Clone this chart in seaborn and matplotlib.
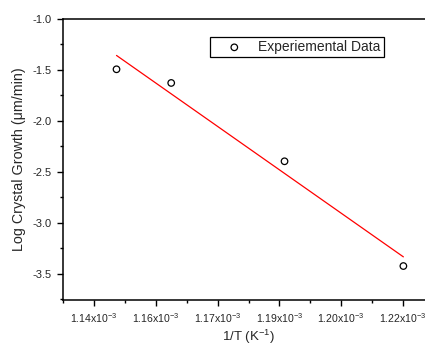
import numpy as np
import pandas as pd
import seaborn as sns
import matplotlib.pyplot as plt
from matplotlib.ticker import FixedLocator, FuncFormatter, MultipleLocator

# values (1/T in K^-1, log growth in um/min)
inv_temp = [1.14548e-3, 1.15875e-3, 1.18624e-3, 1.21507e-3]
log_growth = [-1.493, -1.627, -2.395, -3.422]
x_ticks = [1.140e-3, 1.155e-3, 1.170e-3, 1.185e-3, 1.200e-3, 1.215e-3]
x_tick_labels = ['1.14', '1.16', '1.17', '1.19', '1.20', '1.22']

df = pd.DataFrame({'inv_temp': inv_temp, 'log_growth': log_growth})

sns.set_style('ticks')
plt.rcParams['font.family'] = ['Liberation Sans', 'DejaVu Sans']
plt.rcParams['mathtext.fontset'] = 'custom'
plt.rcParams['mathtext.rm'] = 'Liberation Sans'
plt.rcParams['mathtext.it'] = 'Liberation Sans'
plt.rcParams['mathtext.default'] = 'regular'

fig = plt.figure(figsize=(4.25, 3.44), dpi=100)
ax = fig.add_axes([63 / 425, 44 / 344, 371 / 425, 281 / 344])

# linear fit over the data range
sns.regplot(data=df, x='inv_temp', y='log_growth', ci=None, scatter=False,
            ax=ax, line_kws={'color': 'red', 'lw': 0.9})
sns.scatterplot(data=df, x='inv_temp', y='log_growth', ax=ax,
                marker='o', s=22, facecolor='none', edgecolor='black',
                linewidth=0.9, label='Experiemental Data', zorder=3)

ax.set_xlim(1.1325e-3, 1.2225e-3)
ax.set_ylim(-3.755, -1.0)

ax.xaxis.set_major_locator(FixedLocator(x_ticks))
ax.xaxis.set_minor_locator(MultipleLocator(0.0075e-3))
labels = dict(zip(x_ticks, x_tick_labels))
ax.xaxis.set_major_formatter(FuncFormatter(
    lambda v, p: labels.get(min(labels, key=lambda k: abs(k - v)), '') + r'x10$^{-3}$'))
ax.yaxis.set_major_locator(MultipleLocator(0.5))
ax.yaxis.set_minor_locator(MultipleLocator(0.25))
ax.yaxis.set_major_formatter(FuncFormatter(lambda v, p: f'{v:.1f}'))

ax.tick_params(which='major', direction='out', length=4.5, width=1, color='black')
ax.tick_params(axis='x', which='major', labelsize=7.6)
ax.tick_params(axis='y', which='major', labelsize=8)
ax.tick_params(which='minor', direction='out', length=2.5, width=1, color='black')
for s in ['left', 'bottom', 'top', 'right']:
    ax.spines[s].set_visible(True)
    ax.spines[s].set_linewidth(1.1)
    ax.spines[s].set_color('black')

ax.set_xlabel('1/T (K$^{-1}$)', fontsize=9.5, labelpad=2)
ax.set_ylabel('Log Crystal Growth (\u03bcm/min)', fontsize=10.3, labelpad=5)

leg = ax.legend(loc='upper left', bbox_to_anchor=(147 / 371, 1 - 17.5 / 281),
                fontsize=10, frameon=True, fancybox=False, edgecolor='black',
                borderpad=0.25, handlelength=3.0, handletextpad=0.2,
                borderaxespad=0)
leg.get_frame().set_linewidth(0.9)
leg.get_frame().set_alpha(1)

fig.savefig('out.png', dpi=100)
